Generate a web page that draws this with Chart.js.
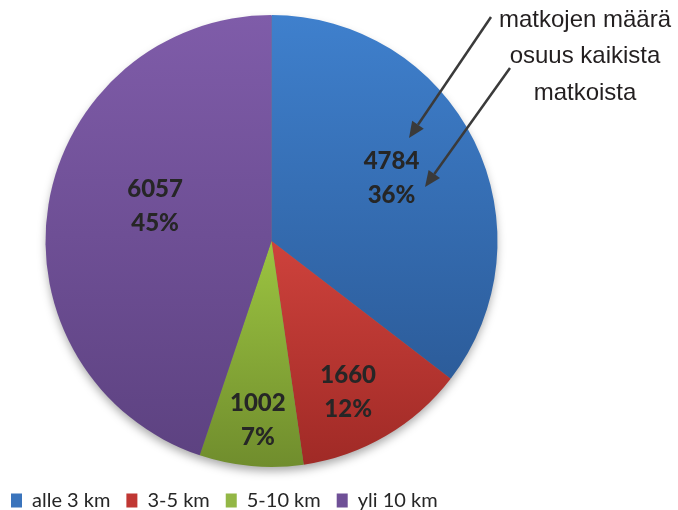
<!DOCTYPE html>
<html><head><meta charset="utf-8">
<script src="https://cdn.jsdelivr.net/npm/chart.js@4/dist/chart.umd.min.js"></script>
<style>html,body{margin:0;padding:0;background:#fff}</style>
</head><body>
<canvas id="c" width="678" height="510"></canvas>
<script>
const categories = ['alle 3 km', '3-5 km', '5-10 km', 'yli 10 km'];
const tripCounts = [4784, 1660, 1002, 6057];
const shareLabels = ['36%', '12%', '7%', '45%'];
const annotationLines = ['matkojen määrä', 'osuus kaikista', 'matkoista'];

const lightColors = ['#3F80CD', '#CE423C', '#9CC441', '#7F5CA9'];
const darkColors = ['#2C5C9A', '#A02A26', '#708D2D', '#5D4281'];
const legendColors = ['#3A74BC', '#C03733', '#93B746', '#6F5097'];
const labelPlacement = [[0.600, -1.5], [0.749, 3.4], [0.794, -0.8], [0.538, 7.5]];

const sliceStyle = {
  id: 'sliceStyle',
  beforeDatasetsDraw(chart) {
    const ctx = chart.ctx;
    const meta = chart.getDatasetMeta(0);
    const a0 = meta.data[0];
    ctx.save();
    ctx.shadowColor = 'rgba(0,0,0,0.35)';
    ctx.shadowBlur = 10;
    ctx.shadowOffsetY = 5;
    ctx.beginPath();
    ctx.arc(a0.x, a0.y, a0.outerRadius - 1, 0, Math.PI * 2);
    ctx.fillStyle = '#777';
    ctx.fill();
    ctx.restore();
    meta.data.forEach((arc, i) => {
      const p = arc.getProps(['x', 'y', 'startAngle', 'endAngle', 'outerRadius'], true);
      const ys = [p.y];
      for (let k = 0; k <= 60; k++) {
        const a = p.startAngle + (p.endAngle - p.startAngle) * k / 60;
        ys.push(p.y + p.outerRadius * Math.sin(a));
      }
      const top = Math.min(...ys), bot = Math.max(...ys);
      const g = ctx.createLinearGradient(0, top, 0, bot);
      g.addColorStop(0, lightColors[i]);
      g.addColorStop(1, darkColors[i]);
      arc.options = Object.assign({}, arc.options, {backgroundColor: g});
    });
  },
  afterDatasetsDraw(chart) {
    const ctx = chart.ctx;
    const meta = chart.getDatasetMeta(0);
    const data = chart.data.datasets[0].data;
    ctx.save();
    ctx.font = '900 24px Lato';
    ctx.fillStyle = '#262626';
    ctx.textAlign = 'center';
    ctx.textBaseline = 'middle';
    meta.data.forEach((arc, i) => {
      const p = arc.getProps(['x', 'y', 'startAngle', 'endAngle', 'outerRadius'], true);
      const [f, off] = labelPlacement[i];
      const a = (p.startAngle + p.endAngle) / 2 + off * Math.PI / 180;
      const lx = p.x + Math.cos(a) * p.outerRadius * f;
      const ly = p.y + Math.sin(a) * p.outerRadius * f;
      ctx.fillText(String(data[i]), lx, ly - 17);
      ctx.fillText(shareLabels[i], lx, ly + 17);
    });
    ctx.restore();
  },
  afterDraw(chart) {
    const ctx = chart.ctx;
    ctx.save();
    ctx.font = '24px "Liberation Sans"';
    ctx.fillStyle = '#231f20';
    ctx.textAlign = 'center';
    ctx.textBaseline = 'alphabetic';
    const baselines = [27, 63, 100];
    annotationLines.forEach((t, i) => ctx.fillText(t, 585, baselines[i]));
    const arrow = (x1, y1, x2, y2) => {
      const ang = Math.atan2(y2 - y1, x2 - x1);
      const hl = 16, hw = 7;
      const bx = x2 - Math.cos(ang) * hl, by = y2 - Math.sin(ang) * hl;
      ctx.strokeStyle = '#3a3a3a';
      ctx.fillStyle = '#3a3a3a';
      ctx.lineWidth = 2.5;
      ctx.beginPath(); ctx.moveTo(x1, y1); ctx.lineTo(bx, by); ctx.stroke();
      ctx.beginPath();
      ctx.moveTo(x2, y2);
      ctx.lineTo(bx + Math.sin(ang) * hw, by - Math.cos(ang) * hw);
      ctx.lineTo(bx - Math.sin(ang) * hw, by + Math.cos(ang) * hw);
      ctx.closePath(); ctx.fill();
    };
    arrow(491, 17, 409, 138);
    arrow(510, 68, 425, 187);
    ctx.restore();
  }
};

new Chart(document.getElementById('c'), {
  type: 'pie',
  data: {
    labels: categories,
    datasets: [{
      data: tripCounts,
      backgroundColor: legendColors,
      borderWidth: 0,
      hoverOffset: 0,
      radius: 226
    }]
  },
  options: {
    responsive: false,
    animation: false,
    layout: {padding: {left: -5, right: 135, top: 7.5, bottom: -10.5}},
    plugins: {
      tooltip: {enabled: false},
      legend: {
        position: 'bottom',
        align: 'start',
        labels: {
          boxWidth: 11,
          boxHeight: 14,
          padding: 16,
          color: '#262626',
          font: {family: 'Lato', size: 20},
          generateLabels(chart) {
            const items = Chart.overrides.doughnut.plugins.legend.labels.generateLabels(chart);
            items.forEach((it, i) => { it.fillStyle = legendColors[i]; it.strokeStyle = legendColors[i]; it.lineWidth = 0; });
            return items;
          }
        }
      }
    }
  },
  plugins: [sliceStyle]
});
</script>
</body></html>
